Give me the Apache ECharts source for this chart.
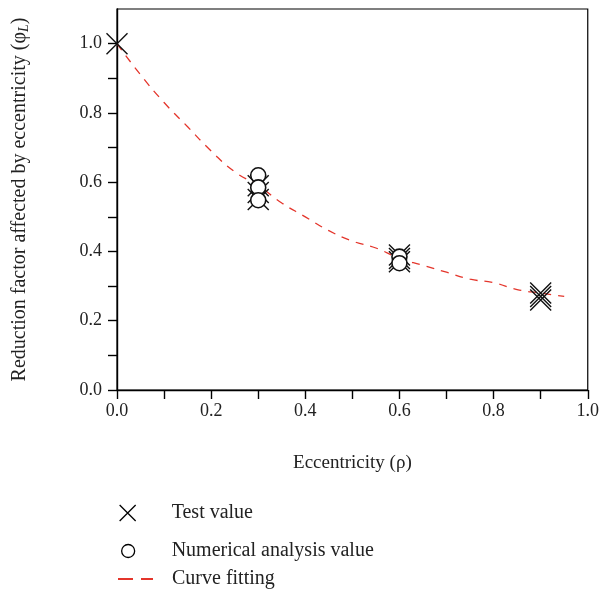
<!DOCTYPE html>
<html>
<head>
<meta charset="utf-8">
<script src="https://cdn.jsdelivr.net/npm/echarts@6/dist/echarts.min.js"></script>
<style>
  html, body { margin: 0; padding: 0; background: #fff; }
  #chart { width: 602px; height: 593px; }
</style>
</head>
<body>
<div id="chart"></div>
<script>
  // test values (x markers)
  var testX = [0, 0.3, 0.3, 0.3, 0.6, 0.6, 0.6, 0.9, 0.9, 0.9];
  var testY = [1.0, 0.59, 0.57, 0.55, 0.39, 0.38, 0.37, 0.28, 0.27, 0.26];
  // numerical analysis values (circles)
  var numX = [0.3, 0.3, 0.3, 0.6, 0.6];
  var numY = [0.62, 0.585, 0.548, 0.385, 0.366];
  // fitted curve
  var fitX = [0, 0.05, 0.1, 0.15, 0.2, 0.25, 0.3, 0.35, 0.4, 0.45, 0.5, 0.55, 0.6, 0.65, 0.7, 0.75, 0.8, 0.85, 0.9, 0.95];
  var fitY = [1.0, 0.91, 0.83, 0.76, 0.69, 0.63, 0.59, 0.54, 0.50, 0.46, 0.43, 0.41, 0.38, 0.36, 0.34, 0.32, 0.31, 0.29, 0.28, 0.27];
  // tick values
  var xLabels = [0, 0.2, 0.4, 0.6, 0.8, 1.0];
  var xTicks = [0, 0.1, 0.2, 0.3, 0.4, 0.5, 0.6, 0.7, 0.8, 0.9, 1.0];
  var yLabels = [0, 0.2, 0.4, 0.6, 0.8, 1.0];
  var yTicks = [0, 0.1, 0.2, 0.3, 0.4, 0.5, 0.6, 0.7, 0.8, 0.9, 1.0];

  function pairs(xs, ys) {
    var out = [];
    for (var i = 0; i < xs.length; i++) {
      out.push([xs[i], ys[i]]);
    }
    return out;
  }

  var font = '"Liberation Serif", "DejaVu Serif", serif';
  var cross = 'path://M0,0L10,10M10,0L0,10';
  var dash = 'path://M0,0h15v2h-15zM23,0h12v2h-12z';
  var red = '#e4352b';
  var ink = '#222';

  var myChart = echarts.init(document.getElementById('chart'));
  var option = {
    animation: false,
    textStyle: { fontFamily: font },
    grid: {
      left: 117, right: 12, top: 9, bottom: 203,
      show: true, borderColor: '#000', borderWidth: 1.2
    },
    xAxis: {
      type: 'value',
      min: 0, max: 1,
      name: 'Eccentricity (ρ)',
      nameLocation: 'middle',
      nameGap: 64,
      nameTextStyle: { fontFamily: font, fontSize: 19, color: ink },
      axisLine: { onZero: false, lineStyle: { color: '#000', width: 1.4 } },
      axisTick: { inside: false, length: 9, customValues: xTicks, lineStyle: { color: '#000', width: 1.4 } },
      axisLabel: {
        margin: 12, fontFamily: font, fontSize: 18, color: ink,
        customValues: xLabels,
        formatter: function (v) { return v.toFixed(1); }
      },
      splitLine: { show: false }
    },
    yAxis: {
      type: 'value',
      min: 0, max: 1.1,
      name: '{a|Reduction factor affected by eccentricity (φ}{s|L}{a|)}',
      nameLocation: 'middle',
      nameGap: 86,
      nameTextStyle: {
        rich: {
          a: { fontFamily: font, fontSize: 20, color: ink },
          s: { fontFamily: font, fontSize: 14, fontStyle: 'italic', color: ink, verticalAlign: 'bottom', padding: [9, 0, 0, 0] }
        }
      },
      axisLine: { onZero: false, lineStyle: { color: '#000', width: 1.4 } },
      axisTick: { inside: false, length: 9, customValues: yTicks, lineStyle: { color: '#000', width: 1.4 } },
      axisLabel: {
        margin: 15, fontFamily: font, fontSize: 18, color: ink,
        customValues: yLabels,
        formatter: function (v) { return v.toFixed(1); }
      },
      splitLine: { show: false }
    },
    legend: [
      {
        left: 114, top: 498, itemWidth: 16, itemHeight: 16,
        textStyle: { fontFamily: font, fontSize: 20, color: ink, padding: [0, 0, 0, 31] },
        data: [{ name: 'Test value', icon: cross, itemStyle: { color: 'transparent', borderColor: '#000', borderWidth: 1.3, opacity: 1 } }]
      },
      {
        left: 116, top: 536, itemWidth: 13, itemHeight: 13,
        textStyle: { fontFamily: font, fontSize: 20, color: ink, padding: [0, 0, 0, 32] },
        data: [{ name: 'Numerical analysis value', icon: 'circle', itemStyle: { color: '#fff', borderColor: '#000', borderWidth: 1.3, opacity: 1 } }]
      },
      {
        left: 113, top: 564, itemWidth: 35, itemHeight: 2,
        textStyle: { fontFamily: font, fontSize: 20, color: ink, padding: [0, 0, 0, 14] },
        data: [{ name: 'Curve fitting', icon: dash, itemStyle: { color: red, borderWidth: 0 } }]
      }
    ],
    series: [
      {
        name: 'Curve fitting',
        type: 'line',
        data: pairs(fitX, fitY),
        smooth: true,
        symbol: 'none',
        z: 1,
        lineStyle: { color: red, width: 1.3, type: [8, 7] },
        itemStyle: { color: red }
      },
      {
        name: 'Test value',
        type: 'scatter',
        data: pairs(testX, testY),
        symbol: cross,
        symbolSize: 21,
        z: 2,
        itemStyle: { color: 'transparent', borderColor: '#111', borderWidth: 1.4, opacity: 1 }
      },
      {
        name: 'Numerical analysis value',
        type: 'scatter',
        data: pairs(numX, numY),
        symbol: 'circle',
        symbolSize: 15,
        z: 3,
        itemStyle: { color: '#fff', borderColor: '#111', borderWidth: 1.6, opacity: 1 }
      }
    ]
  };
  myChart.setOption(option);
</script>
</body>
</html>
